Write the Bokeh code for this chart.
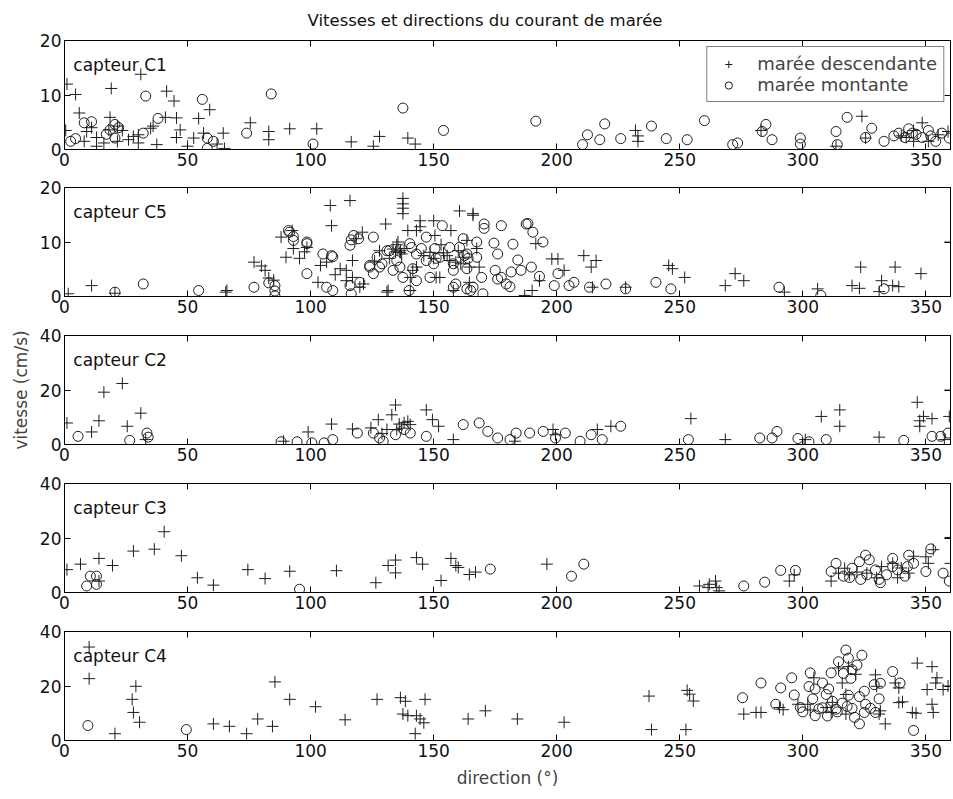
from bokeh.plotting import figure
from bokeh.models import Range1d, LinearAxis, FixedTicker, Label, Legend, LegendItem
from bokeh.layouts import column
from bokeh.embed import file_html
from bokeh.resources import INLINE

FONT = "DejaVu Sans"
TITLE = "Vitesses et directions du courant de marée"
XLABEL = "direction (°)"
YLABEL = "vitesse (cm/s)"
LEG_DESC = "marée descendante"
LEG_MONT = "marée montante"
XTICKS = [0, 50, 100, 150, 200, 250, 300, 350]

# ---------------- capteur C1 ----------------
c1_desc_dir = [1, 4.5, 19, 31, 41.5, 44.5, 59, 6, 0.5, 18.5, 41, 45.5, 54.5, 36, 9, 13, 8, 13, 21.5, 23.5,
               28, 30, 37.5, 45.5, 47, 50, 52.5, 56.5, 64.5, 65, 75.5, 83, 83, 91.5, 102.5, 116.5, 125.5, 128,
               139.5, 142.5, 18, 21.5, 30, 35, 232, 233, 233, 313.5, 324, 325.5, 348.5, 345, 351, 359, 283,
               340, 345, 355, 342, 26, 16, 62, 11]
c1_desc_spd = [12.0, 10.1, 11.2, 13.8, 10.7, 8.9, 7.3, 6.7, 3.5, 5.9, 5.9, 5.8, 5.7, 4.3, 3.3, 2.2, 1.5, 0.6, 4.3, 3.5,
               2.4, 1.2, 0.9, 2.2, 3.6, 0.6, 2.1, 3.0, 3.0, 0.2, 4.9, 3.3, 1.8, 3.8, 3.8, 1.4, 0.6, 2.4,
               2.1, 1.0, 3.6, 1.5, 2.7, 3.9, 3.5, 2.5, 1.5, 0.6, 6.1, 2.1, 4.9, 3.5, 1.5, 3.3, 3.5,
               2.5, 1.5, 2.7, 2.2, 1.8, 1.2, 1.0, 4.0]
c1_mont_dir = [2.5, 4.5, 8, 11, 18.5, 20.5, 20.5, 33, 32, 38, 56, 58, 58, 60.5, 74, 84, 101, 137.5, 154, 191.5,
               210.5, 212.5, 217.5, 219.5, 226, 238.5, 244.5, 253, 260, 271.5, 273.5, 285, 283.5, 287.5, 299, 299,
               313.5, 314, 318, 325.5, 328, 333, 339, 341.5, 344.5, 348.5, 351, 354, 356.5, 359.5, 343, 346, 337,
               352, 17, 22]
c1_mont_spd = [1.5, 2.0, 4.9, 5.1, 3.6, 4.6, 2.1, 9.8, 3.0, 5.7, 9.2, 2.1, 0.2, 1.5, 3.0, 10.2, 1.0, 7.6, 3.5, 5.2,
               0.9, 2.7, 1.8, 4.7, 2.0, 4.3, 2.0, 1.8, 5.3, 0.9, 1.2, 4.6, 3.3, 1.8, 2.1, 1.0,
               3.3, 0.9, 5.9, 2.2, 3.9, 1.5, 3.0, 2.2, 3.0, 2.2, 3.5, 1.5, 3.0, 2.1, 3.8, 2.8, 2.5,
               2.5, 2.8, 4.0]

# ---------------- capteur C5 ----------------
c5_desc_dir = [1.5, 11, 20.5, 65.5, 66, 77, 80, 81.5, 83, 88, 90, 92.5, 93, 95.5, 97.5, 98.5, 103, 104, 106.5, 108,
               108.5, 112, 114.5, 114.5, 116, 117, 117, 118.5, 120, 121, 121.5, 128, 130.5, 131, 133.5, 134.5,
               135.5, 136.5, 137, 137.5, 137.5, 137.5, 137.5, 136.3, 139.5, 140.5, 141.5, 143, 143, 144.5, 144.5,
               148.5, 150, 150, 150.5, 151, 152.5, 155.5, 156.5, 157, 159, 160, 160.5, 162, 163.5, 164.5, 164.5,
               166, 166, 167.5, 168.5, 187, 190, 191.5, 193, 198, 200.5, 203, 211, 214, 214.5, 216, 228, 245.5,
               247, 252, 268.5, 272.5, 276, 292.5, 306, 320, 323, 323.5, 331, 332, 336.5, 337.5, 339, 348, 360,
               131.5, 140.5, 158, 132, 135, 138, 146, 154, 161, 153, 126, 110, 85]
c5_desc_spd = [0.5, 2.0, 0.6, 0.8, 1.1, 6.3, 5.6, 4.8, 3.4, 10.9, 7.2, 12.1, 8.8, 7.0, 8.2, 9.0, 2.6, 5.7, 6.3, 16.7,
               13.0, 5.1, 4.8, 2.9, 17.6, 6.6, 3.5, 10.6, 1.7, 11.8, 2.3, 8.4, 13.3, 0.8, 8.7, 8.2,
               10.0, 8.4, 7.8, 18.0, 17.0, 16.2, 15.2, 8.1, 12.1, 3.5, 4.8, 12.1, 5.4, 13.9, 12.8,
               8.1, 13.9, 7.0, 11.2, 3.5, 3.5, 7.5, 6.6, 12.1, 6.3, 8.4, 15.7, 7.2, 10.3, 5.4, 2.6,
               14.9, 15.2, 8.8, 5.4, 0.2, 1.1, 9.7, 2.9, 6.9, 6.9, 4.8, 7.5, 5.4, 1.7, 6.6, 1.7, 5.7,
               5.1, 3.5, 2.0, 4.2, 2.9, 0.8, 1.4, 2.0, 1.5, 5.4, 0.9, 2.9, 2.0, 5.4, 1.8, 4.2, 10.0,
               1.1, 1.1, 1.1, 7.0, 9.5, 8.8, 7.5, 8.0, 6.0, 9.5, 6.5, 4.0, 3.0]
c5_mont_dir = [20.5, 32, 54.5, 77, 83, 85.5, 85.5, 85.5, 91, 91.5, 93, 93, 98.5, 98.5, 98.5, 105, 106.5, 108.5, 109,
               109, 116, 116.5, 117.5, 116, 116.5, 119.5, 120, 124, 124, 125.5, 125.5, 127, 128, 129, 131, 132,
               133.5, 135, 136.3, 137.5, 140.3, 140, 141, 141.5, 143, 143, 145, 147, 147, 148.5, 150, 150.5, 151,
               152.5, 153.5, 156.5, 158, 158, 158, 159, 160.5, 162, 162.5, 163.5, 163.5, 163.5, 164, 165, 166,
               167.5, 167.5, 169.5, 170.5, 170.5, 170, 174.5, 175, 176, 176, 177.5, 177.5, 179.5, 181, 181.5,
               182.2, 184.2, 185.5, 187.6, 188.3, 189.7, 190.3, 193, 194.4, 199, 200.5, 205, 207, 213.3, 220, 228,
               240.3, 246.4, 290.3, 307.3, 333]
c5_mont_spd = [0.8, 2.3, 1.1, 1.7, 2.5, 2.0, 1.0, 0.1, 12.1, 11.8, 11.0, 10.3, 10.0, 9.7, 4.2, 7.8, 1.7, 7.5, 7.3,
               1.1, 9.4, 10.4, 11.2, 2.0, 0.5, 10.6, 2.6, 5.4, 5.7, 10.9, 4.2, 7.2, 5.4, 6.0, 8.4, 8.4,
               4.8, 6.6, 5.4, 3.5, 9.7, 1.1, 9.0, 5.1, 7.8, 2.9, 8.8, 10.9, 6.6, 3.5, 6.0, 8.8, 7.0,
               7.2, 13.0, 9.0, 6.0, 4.8, 1.7, 2.3, 9.0, 10.6, 7.5, 7.8, 5.1, 1.4, 7.0, 1.1, 1.7,
               10.0, 7.2, 3.5, 13.3, 12.5, 0.5, 9.8, 4.8, 7.8, 3.2, 13.0, 3.5, 2.3, 1.8, 4.5,
               9.6, 6.7, 4.8, 13.3, 13.4, 5.4, 11.8, 3.7, 10.0, 2.0, 4.2, 2.0, 2.6, 1.7, 2.3, 1.4,
               2.6, 1.4, 1.7, 0.2, 1.4]

# ---------------- capteur C2 ----------------
c2_desc_dir = [1, 11, 14, 16, 23.5, 25.5, 31, 33, 89, 99, 108.5, 117, 124.5, 127.5, 133, 134.5, 139.5, 140.5, 147,
               149.5, 152, 158, 183, 199.5, 198.5, 216.5, 222, 254.5, 268.5, 301, 307.5, 315, 315, 331, 347.5,
               347.5, 346.5, 349, 352.5, 357.5, 359.5, 360, 136, 137, 135, 138, 129, 131]
c2_desc_spd = [7.9, 4.6, 8.7, 19.2, 22.4, 6.7, 11.5, 1.8, 1.2, 4.6, 7.5, 5.7, 6.1, 9.1, 10.9, 14.5, 8.5, 7.3, 12.7,
               9.1, 6.7, 1.8, 1.2, 3.6, 5.5, 5.5, 6.7, 9.5, 1.8, 1.8, 10.3, 12.7, 6.7, 2.7, 8.7,
               6.7, 15.5, 10.3, 9.5, 1.8, 10.3, 20.0, 7.5, 6.0, 5.5, 8.0, 4.0, 5.5]
c2_mont_dir = [5.5, 26.5, 33.5, 34, 88, 94.5, 100.5, 105.5, 109, 119, 125.5, 128, 129.5, 134.5, 138, 140.5, 147,
               162, 168.5, 172, 176, 181, 183.5, 189, 194.5, 199.5, 203.5, 209.5, 214, 218.5, 226, 253.5, 282.5,
               287.5, 289.5, 298, 302.5, 309.5, 341, 352.5, 356, 359]
c2_mont_spd = [3.0, 1.5, 4.2, 2.7, 1.0, 1.0, 0.6, 0.6, 1.8, 4.2, 4.2, 2.4, 1.2, 3.6, 5.5, 4.2, 3.0,
               7.3, 7.9, 4.8, 2.4, 1.8, 4.2, 4.2, 4.8, 2.4, 4.2, 1.2, 3.6, 1.8, 6.7, 1.8, 2.4,
               2.4, 4.8, 2.2, 1.0, 1.8, 1.5, 3.0, 3.0, 4.2]

# ---------------- capteur C3 ----------------
c3_desc_dir = [1, 6.5, 14, 14, 19.5, 28, 36.5, 40.5, 47.5, 54, 60.5, 74.5, 81.5, 91.5, 110.5, 126.5, 131.5, 134.5,
               134.5, 143, 145.5, 153, 157, 159, 160, 164.5, 167, 196, 258, 261.5, 262, 264.5, 265, 266, 294.5,
               296.5, 311.5, 314.5, 317, 326, 330, 336.5, 338.5, 343, 345, 350, 353, 351, 360, 360, 319, 322,
               332, 340]
c3_desc_spd = [8.4, 10.4, 12.5, 4.2, 9.9, 15.2, 15.9, 22.3, 13.5, 5.4, 2.7, 8.4, 5.1, 7.8, 8.0, 3.6, 9.9, 11.9,
               7.2, 12.8, 10.4, 4.4, 12.5, 9.9, 9.2, 6.6, 7.5, 10.4, 2.4, 1.8, 3.0, 4.2, 1.8, 0.6, 4.2,
               6.5, 4.2, 7.1, 8.9, 7.1, 5.4, 10.7, 5.4, 7.1, 13.3, 13.1, 15.7, 10.7, 20.2, 10.7, 6.5, 7.5,
               9.5, 9.0]
c3_mont_dir = [9, 10.5, 13, 13, 95.5, 173, 206, 211, 276, 284.5, 291, 297, 311.5, 313.5, 316.5, 320, 323, 325.5,
               326, 323.5, 329.5, 331, 331.5, 336.5, 336.5, 338.5, 341.5, 343, 345, 342.5, 350, 352, 357, 359.5,
               319, 327, 334]
c3_mont_spd = [2.4, 6.0, 6.0, 3.0, 1.2, 8.6, 6.0, 10.4, 2.4, 3.8, 8.1, 8.1, 7.7, 10.7, 6.0, 8.9, 11.3, 13.7,
               6.5, 4.8, 8.3, 4.8, 3.6, 12.5, 9.5, 8.3, 6.0, 13.7, 10.7, 9.5, 7.7, 16.0, 7.1, 4.2,
               5.5, 12.0, 6.5]

# ---------------- capteur C4 ----------------
c4_desc_dir = [10, 10, 20.5, 29, 27.5, 28, 30.5, 60.5, 67, 74, 78.5, 84.5, 85.5, 91.5, 102, 114, 127, 136.5, 138.5,
               137.5, 139.5, 143, 144.5, 146, 142.5, 146.5, 164, 171, 184, 203, 237.5, 238.5, 253, 254, 255.5,
               252.5, 276, 281, 283, 290.5, 292, 298, 302, 303, 309.5, 311.5, 312, 304.5, 316, 317.5, 314.5,
               318.5, 321.5, 317.5, 329.5, 330, 331.5, 333.5, 331, 337.5, 339, 339, 340.5, 344.5, 346, 346.5,
               352.5, 352.5, 350.5, 354.5, 354, 357, 359, 353]
c4_desc_spd = [34.3, 22.7, 2.5, 19.9, 15.1, 10.3, 6.7, 6.1, 5.2, 2.5, 7.9, 5.2, 21.5, 15.1, 12.4, 7.6, 15.1, 15.7, 14.4,
               9.7, 9.1, 9.1, 7.9, 6.5, 2.5, 15.1, 7.9, 10.9, 7.9, 6.7, 16.3, 4.0, 18.4, 17.0, 14.5,
               4.0, 9.7, 10.3, 10.3, 12.1, 11.3, 13.3, 13.3, 11.2, 12.1, 10.3, 14.0, 23.0, 21.1, 16.9, 26.6,
               27.1, 24.3, 9.7, 24.1, 19.9, 10.9, 6.1, 9.7, 21.1, 19.3, 13.9, 14.2, 10.3, 10.0, 28.4,
               27.1, 13.3, 18.7, 23.0, 21.1, 18.7, 20.0, 10.3]
c4_mont_dir = [9.5, 49.5, 275.5, 283, 289, 291, 295.5, 296.5, 299, 302.5, 303, 304, 305, 306.5, 308, 309.5, 310.5,
               311.5, 312, 313.5, 314.5, 317.5, 318.5, 320, 322, 324, 316.5, 319.5, 316, 318.5, 320, 323, 325,
               325.5, 325, 323, 327.5, 329, 329.5, 331.5, 336.5, 339.5, 331, 345, 305, 308, 300, 310, 314, 318,
               321]
c4_mont_spd = [5.5, 4.0, 15.7, 21.1, 13.3, 19.3, 23.0, 16.7, 12.1, 19.8, 24.8, 15.3, 18.9, 11.6, 21.1, 16.9, 18.9,
               24.8, 14.4, 11.5, 28.9, 33.2, 30.2, 26.0, 27.7, 31.3, 24.6, 22.8, 13.7, 16.6, 11.8, 16.1, 18.1,
               13.3, 10.3, 6.1, 11.8, 20.5, 10.3, 21.0, 25.3, 21.1, 15.3, 3.7, 9.1, 12.0, 10.5, 9.0, 10.5, 12.5,
               8.5]

PANELS = [
    ("capteur C1", 20, [0, 10, 20], c1_desc_dir, c1_desc_spd, c1_mont_dir, c1_mont_spd),
    ("capteur C5", 20, [0, 10, 20], c5_desc_dir, c5_desc_spd, c5_mont_dir, c5_mont_spd),
    ("capteur C2", 40, [0, 20, 40], c2_desc_dir, c2_desc_spd, c2_mont_dir, c2_mont_spd),
    ("capteur C3", 40, [0, 20, 40], c3_desc_dir, c3_desc_spd, c3_mont_dir, c3_mont_spd),
    ("capteur C4", 40, [0, 20, 40], c4_desc_dir, c4_desc_spd, c4_mont_dir, c4_mont_spd),
]

INK = "#1e1e1e"
FS = "17px"
TOPS = [40, 9, 9, 9, 9]
BOTTOMS = [29, 30, 30, 30, 48]


def style_axis(ax, show_labels=True):
    ax.major_tick_in = 6
    ax.major_tick_out = 0
    ax.minor_tick_line_color = None
    ax.axis_line_color = "black"
    ax.major_tick_line_color = "black"
    ax.major_label_text_font = FONT
    if show_labels:
        ax.major_label_text_color = "#111111"
        ax.major_label_text_font_size = FS
        ax.major_label_standoff = 3
    else:
        ax.major_label_text_color = None
        ax.major_label_text_font_size = "0px"
        ax.major_label_standoff = 0


figs = []
n = len(PANELS)
for i, (name, ymax, yticks, dd, ds, md, ms) in enumerate(PANELS):
    p = figure(frame_width=886, frame_height=109,
               x_range=Range1d(0, 360), y_range=Range1d(0, ymax),
               x_axis_type=None, y_axis_type=None,
               min_border_left=64, min_border_right=1,
               min_border_top=TOPS[i], min_border_bottom=BOTTOMS[i],
               output_backend="svg", toolbar_location=None,
               title=(TITLE if i == 0 else None))
    p.xgrid.grid_line_color = None
    p.ygrid.grid_line_color = None
    p.outline_line_color = "black"
    p.outline_line_alpha = 1
    p.background_fill_color = "white"
    p.border_fill_color = "white"

    xb = LinearAxis(ticker=FixedTicker(ticks=XTICKS))
    style_axis(xb)
    if i == n - 1:
        xb.axis_label = XLABEL
        xb.axis_label_text_font = FONT
        xb.axis_label_text_font_size = FS
        xb.axis_label_text_font_style = "normal"
        xb.axis_label_standoff = 8
    p.add_layout(xb, "below")
    xa = LinearAxis(ticker=FixedTicker(ticks=XTICKS))
    style_axis(xa, show_labels=False)
    p.add_layout(xa, "above")

    yl = LinearAxis(ticker=FixedTicker(ticks=yticks))
    style_axis(yl)
    if i == 2:
        yl.axis_label = YLABEL
        yl.axis_label_text_font = FONT
        yl.axis_label_text_font_size = FS
        yl.axis_label_text_font_style = "normal"
        yl.axis_label_standoff = 6
    p.add_layout(yl, "left")
    yr = LinearAxis(ticker=FixedTicker(ticks=yticks))
    style_axis(yr, show_labels=False)
    p.add_layout(yr, "right")

    r_desc = p.scatter(dd, ds, marker="cross", size=12, line_color=INK, line_width=1)
    r_mont = p.scatter(md, ms, marker="circle", size=10, fill_color=None, line_color=INK, line_width=1)

    p.add_layout(Label(x=3.6, y=ymax * 0.864, text=name, text_baseline="top",
                       text_font=FONT, text_font_size=FS, text_color="#111111"))

    if i == 0:
        p.title.align = "left"
        p.title.offset = 243
        p.title.vertical_align = "top"
        p.title.text_font = FONT
        p.title.text_font_size = "16.5px"
        p.title.text_font_style = "normal"
        p.title.text_color = "#111111"
        p.title.standoff = 18
        leg = Legend(items=[LegendItem(label=LEG_DESC, renderers=[r_desc]),
                            LegendItem(label=LEG_MONT, renderers=[r_mont])],
                     location="top_right")
        leg.border_line_color = "black"
        leg.border_line_width = 1
        leg.background_fill_alpha = 1
        leg.label_text_font = FONT
        leg.label_text_font_size = "18px"
        leg.glyph_width = 30
        leg.glyph_height = 18
        leg.label_standoff = 14
        leg.padding = 6
        leg.spacing = 0
        leg.margin = 6
        p.add_layout(leg)
    figs.append(p)

layout = column(*figs, spacing=0)
open("out.html", "w").write(file_html(layout, INLINE))
